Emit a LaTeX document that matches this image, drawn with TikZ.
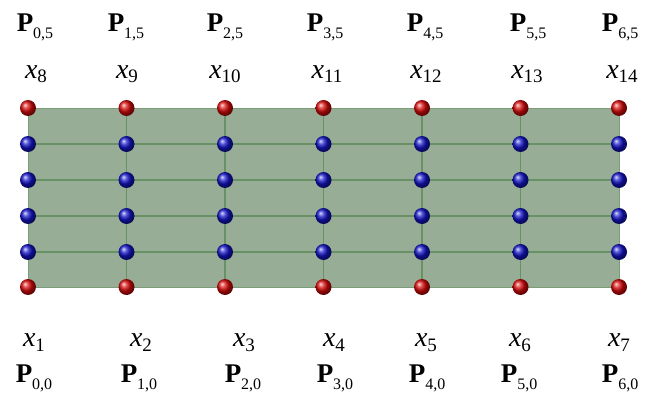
\documentclass[tikz,border=0pt]{standalone}
\usepackage{fontspec}
\setmainfont{Liberation Serif}
\definecolor{patch}{RGB}{152,173,149}
\definecolor{gridline}{RGB}{104,146,102}
\definecolor{redball}{RGB}{215,10,10}
\definecolor{blueball}{RGB}{20,20,200}
\tikzset{
  pt/.style={circle,inner sep=0pt,minimum size=16pt,shading=ball},
  redpt/.style={pt,ball color=redball},
  bluept/.style={pt,ball color=blueball},
  grid/.style={draw=gridline,line width=1.5pt},
  lbl/.style={anchor=base,inner sep=0pt},
}
\newcommand{\Pt}[1]{\fontsize{27}{30}\selectfont\textbf{P}\raisebox{-7pt}{\fontsize{16}{16}\selectfont #1}}
\newcommand{\Xt}[1]{\fontsize{28}{30}\selectfont\textit{x}\raisebox{-5pt}{\fontsize{19}{19}\selectfont #1}}
\begin{document}
\begin{tikzpicture}[x=1pt,y=-1pt]
\useasboundingbox (0,0) rectangle (648,396);
% control net
\def\cols{{28,126.5,225,323.5,422,520.5,619}}
\def\rows{{108,144,180,216,252,287}}
\foreach \i in {0,...,6}{
  \foreach \j in {0,...,5}{
    \pgfmathsetmacro{\cx}{\cols[\i]}
    \pgfmathsetmacro{\cy}{\rows[\j]}
    \coordinate (c\i\j) at (\cx,\cy);
  }
}
\fill[patch] (c00) rectangle (c65);
\foreach \j in {1,...,4}{ \draw[grid] (c0\j) -- (c6\j); }
\foreach \i in {1,...,5}{ \draw[grid] (c\i0) -- (c\i5); }
\draw[draw=gridline!60!patch,line width=1pt] (c00) rectangle (c65);
\foreach \i in {0,...,6}{
  \node[redpt] (p\i0) at (c\i0) {};
  \node[redpt] (p\i5) at (c\i5) {};
  \foreach \j in {1,...,4}{ \node[bluept] (p\i\j) at (c\i\j) {}; }
}
% top labels
\node[lbl] (P05) at (35,32) {\Pt{0,5}};
\node[lbl] (P15) at (126,32) {\Pt{1,5}};
\node[lbl] (P25) at (225,32) {\Pt{2,5}};
\node[lbl] (P35) at (325,32) {\Pt{3,5}};
\node[lbl] (P45) at (425,32) {\Pt{4,5}};
\node[lbl] (P55) at (528,32) {\Pt{5,5}};
\node[lbl] (P65) at (620,32) {\Pt{6,5}};
\node[lbl] (x8) at (36,78) {\Xt{8}};
\node[lbl] (x9) at (127,78) {\Xt{9}};
\node[lbl] (x10) at (225,78) {\Xt{10}};
\node[lbl] (x11) at (327,78) {\Xt{11}};
\node[lbl] (x12) at (426,78) {\Xt{12}};
\node[lbl] (x13) at (527,78) {\Xt{13}};
\node[lbl] (x14) at (622,78) {\Xt{14}};
% bottom labels
\node[lbl] (x1) at (34,346) {\Xt{1}};
\node[lbl] (x2) at (141,346) {\Xt{2}};
\node[lbl] (x3) at (244,346) {\Xt{3}};
\node[lbl] (x4) at (334,346) {\Xt{4}};
\node[lbl] (x5) at (426,346) {\Xt{5}};
\node[lbl] (x6) at (520,346) {\Xt{6}};
\node[lbl] (x7) at (619,346) {\Xt{7}};
\node[lbl] (P00) at (34,382) {\Pt{0,0}};
\node[lbl] (P10) at (139,382) {\Pt{1,0}};
\node[lbl] (P20) at (243,382) {\Pt{2,0}};
\node[lbl] (P30) at (335,382) {\Pt{3,0}};
\node[lbl] (P40) at (427,382) {\Pt{4,0}};
\node[lbl] (P50) at (519,382) {\Pt{5,0}};
\node[lbl] (P60) at (620,382) {\Pt{6,0}};
\end{tikzpicture}
\end{document}
